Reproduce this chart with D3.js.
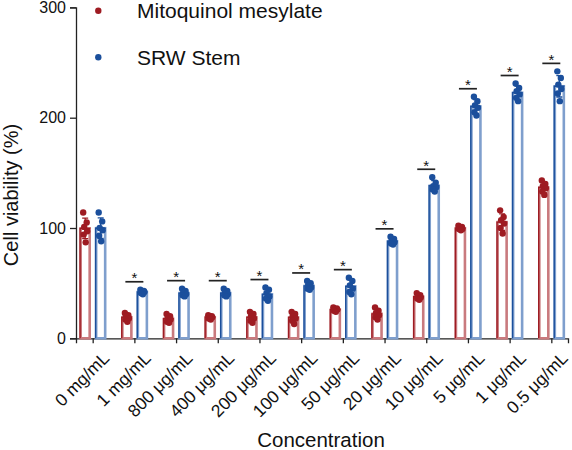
<!DOCTYPE html>
<html>
<head>
<meta charset="utf-8">
<script src="https://cdn.jsdelivr.net/npm/d3@7"></script>
<style>
  body { margin: 0; background: #fff; }
  svg { font-family: "Liberation Sans", Arial, sans-serif; }
</style>
</head>
<body>
<svg id="chart" width="572" height="450"></svg>
<script>
/* Cell viability bar chart: hollow bars, replicate dots, SD bars */

const categories = ['0 mg/mL', '1 mg/mL', '800 μg/mL', '400 μg/mL', '200 μg/mL', '100 μg/mL',
  '50 μg/mL', '20 μg/mL', '10 μg/mL', '5 μg/mL', '1 μg/mL', '0.5 μg/mL'];

const seriesNames = ['Mitoquinol mesylate', 'SRW Stem'];

// replicate values (6 per group)
const mitoPoints = [
  [114, 105, 101, 97, 94, 87],
  [23, 21, 20, 18, 17, 15],
  [22, 20, 18, 17, 15, 14],
  [21, 20, 20, 19, 18, 17],
  [24, 22, 20, 18, 16, 14],
  [24, 22, 20, 18, 16, 13],
  [28, 27, 26, 26, 25, 24],
  [28, 25, 23, 21, 19, 17],
  [41, 39, 38, 37, 36, 35],
  [102, 101, 100, 99, 99, 98],
  [116, 110, 107, 104, 100, 95],
  [143, 140, 138, 136, 133, 130]
];

const srwPoints = [
  [114, 106, 100, 98, 93, 88],
  [44, 43, 42, 42, 41, 40],
  [45, 43, 41, 40, 39, 38],
  [45, 43, 41, 40, 39, 38],
  [46, 44, 41, 38, 36, 34],
  [52, 50, 48, 46, 45, 44],
  [55, 52, 48, 45, 42, 40],
  [92, 90, 88, 87, 86, 85],
  [146, 141, 138, 137, 135, 133],
  [219, 215, 211, 209, 205, 202],
  [231, 227, 224, 221, 218, 215],
  [242, 236, 230, 226, 222, 215]
];

const significant = [false, true, true, true, true, true, true, true, true, true, true, true];

const yTicks = [0, 100, 200, 300];

const COLORS = ['#9e1b22', '#1b4f9c'];
const LIGHT = ['#c97a7e', '#7f9fcd'];
const jitter = [-2, 1.5, -1, 2, -1.5, 0.5];

const svg = d3.select('#chart');

const x = d3.scalePoint().domain(categories).range([76, 568]).padding(0.4);
const y = d3.scaleLinear().domain([0, 300]).range([338.3, 7.4]);

const barW = 9;
const offset = [-7.5, 8];

// axes
const yAxis = svg.append('g')
  .attr('transform', 'translate(76,0)')
  .call(d3.axisLeft(y).tickValues(yTicks).tickSize(6).tickPadding(4));
yAxis.select('.domain').attr('stroke', '#222').attr('stroke-width', 1.3);
yAxis.selectAll('.tick line').attr('stroke', '#222').attr('stroke-width', 1.3);
yAxis.selectAll('.tick text').attr('font-size', 16).attr('fill', '#111')
  .attr('font-family', '"Liberation Sans", Arial, sans-serif');

const xAxis = svg.append('g')
  .attr('transform', 'translate(0,338.3)')
  .call(d3.axisBottom(x).tickSizeOuter(0).tickSize(5).tickPadding(6));
xAxis.select('.domain').attr('stroke', '#222').attr('stroke-width', 1.3);
xAxis.selectAll('.tick line').attr('stroke', '#222').attr('stroke-width', 1.3);
xAxis.selectAll('.tick text')
  .attr('font-size', 17.5).attr('fill', '#111')
  .attr('font-family', '"Liberation Sans", Arial, sans-serif')
  .attr('text-anchor', 'end')
  .attr('dy', '0.35em')
  .attr('transform', 'translate(5,9) rotate(-45)');

// bars, SD, points
const series = [mitoPoints, srwPoints];
series.forEach((pts, s) => {
  const g = svg.append('g');
  categories.forEach((c, i) => {
    const vals = pts[i];
    const mean = d3.mean(vals);
    const sd = d3.deviation(vals);
    const cx = x(c) + offset[s];

    g.append('rect')
      .attr('x', cx - barW / 2)
      .attr('y', y(mean))
      .attr('width', barW)
      .attr('height', y(0) - y(mean))
      .attr('fill', '#fff')
      .attr('stroke', LIGHT[s])
      .attr('stroke-width', 2.6);
    g.append('path')
      .attr('d', `M${cx - barW / 2 - 0.6},${y(0)}V${y(mean)}H${cx + barW / 2 + 0.6}`)
      .attr('fill', 'none')
      .attr('stroke', COLORS[s])
      .attr('stroke-width', 1.4);

    // SD error bar
    const top = y(mean + sd), bot = y(mean - sd);
    g.append('path')
      .attr('d', `M${cx},${top}V${bot}M${cx - 3},${top}H${cx + 3}M${cx - 3},${bot}H${cx + 3}`)
      .attr('stroke', COLORS[s])
      .attr('stroke-width', 1.3)
      .attr('fill', 'none');

    g.selectAll(null)
      .data(vals)
      .join('circle')
      .attr('cx', (d, k) => cx + jitter[k])
      .attr('cy', d => y(d))
      .attr('r', 3.2)
      .attr('fill', COLORS[s]);
  });
});

// significance markers
categories.forEach((c, i) => {
  if (!significant[i]) return;
  const maxV = d3.max(mitoPoints[i].concat(srwPoints[i]));
  const ly = y(maxV) - 8;
  const cx = x(c);
  svg.append('line')
    .attr('x1', cx - 9).attr('x2', cx + 9)
    .attr('y1', ly).attr('y2', ly)
    .attr('stroke', '#222').attr('stroke-width', 1.7);
  svg.append('text')
    .attr('x', cx).attr('y', ly + 1.5)
    .attr('text-anchor', 'middle')
    .attr('font-size', 15)
    .attr('fill', '#111')
    .text('*');
});

// legend
const legendY = [10.7, 57.3];
seriesNames.forEach((name, s) => {
  svg.append('circle')
    .attr('cx', 98.3).attr('cy', legendY[s]).attr('r', 3.2)
    .attr('fill', COLORS[s]);
  svg.append('text')
    .attr('x', 137).attr('y', legendY[s] + 7.5)
    .attr('font-size', 21)
    .attr('fill', '#111')
    .text(name);
});

// axis titles
svg.append('text')
  .attr('transform', 'translate(18,195) rotate(-90)')
  .attr('text-anchor', 'middle')
  .attr('font-size', 20)
  .attr('fill', '#111')
  .text('Cell viability (%)');

svg.append('text')
  .attr('x', 321).attr('y', 447)
  .attr('text-anchor', 'middle')
  .attr('font-size', 20.5)
  .attr('fill', '#111')
  .text('Concentration');
</script>
</body>
</html>
